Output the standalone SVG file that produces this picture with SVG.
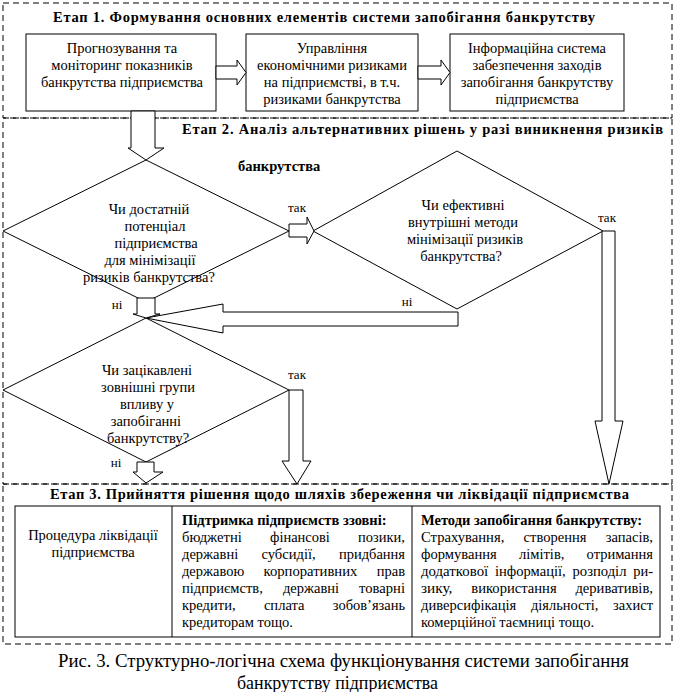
<svg xmlns="http://www.w3.org/2000/svg" width="676" height="692" viewBox="0 0 676 692" font-family="Liberation Serif, Times New Roman, serif" font-size="14.5">
<style>
text{fill:#000}
.b{font-weight:bold}
.c{text-anchor:middle}
.e{text-anchor:end}
.s{font-size:13px}
.cap{font-size:19px}
.frame{fill:none;stroke:#000;stroke-width:1;stroke-dasharray:6,4}
.box{fill:#fff;stroke:#000;stroke-width:1}
.dia{fill:none;stroke:#000;stroke-width:1}
.arr{fill:#fff;stroke:#000;stroke-width:1;stroke-linejoin:miter}
</style>
<rect width="676" height="692" fill="#fff"/>
<g id="stage1">
<rect class="frame" x="3" y="3" width="669" height="115"/>
<text class="b" x="53" y="22" textLength="542" lengthAdjust="spacing">Етап 1. Формування основних елементів системи запобігання банкрутству</text>
</g>
<g id="stage2">
<rect class="frame" x="3" y="118" width="669" height="366"/>
<text class="b" x="182" y="134" textLength="481" lengthAdjust="spacing">Етап 2. Аналіз альтернативних рішень  у разі виникнення ризиків</text>
<text class="b" x="238" y="171">банкрутства</text>
</g>
<g id="stage3">
<rect class="frame" x="3" y="484" width="669" height="160"/>
<text class="b" x="50" y="499" textLength="579" lengthAdjust="spacing">Етап 3. Прийняття рішення щодо шляхів збереження чи ліквідації підприємства</text>
</g>
<g id="box1">
<rect class="box" x="26" y="34" width="190" height="77"/>
<text class="c" x="122" y="53">Прогнозування та</text>
<text class="c" x="122" y="70">моніторинг показників</text>
<text class="c" x="122" y="87">банкрутства підприємства</text>
</g>
<g id="box2">
<rect class="box" x="246" y="34" width="172" height="77"/>
<text class="c" x="332" y="53">Управління</text>
<text class="c" x="332" y="70">економічними ризиками</text>
<text class="c" x="332" y="87">на підприємстві, в т.ч.</text>
<text class="c" x="332" y="104">ризиками банкрутства</text>
</g>
<g id="box3">
<rect class="box" x="450" y="34" width="174" height="77"/>
<text class="c" x="537" y="53">Інформаційна система</text>
<text class="c" x="537" y="70">забезпечення заходів</text>
<text class="c" x="537" y="87">запобігання банкрутству</text>
<text class="c" x="537" y="104">підприємства</text>
</g>
<g id="decision1">
<polygon class="dia" points="146,160 289,231 146,302 3,231"/>
<text class="c" x="149" y="214">Чи достатній</text>
<text class="c" x="155" y="231">потенціал</text>
<text class="c" x="156" y="248">підприємства</text>
<text class="c" x="150" y="265">для мінімізації</text>
<text class="c" x="149" y="282">ризиків банкрутства?</text>
</g>
<g id="decision2">
<polygon class="dia" points="457,151 603,231 457,309 313,231"/>
<text class="c" x="463" y="210">Чи ефективні</text>
<text class="c" x="463" y="227">внутрішні методи</text>
<text class="c" x="465" y="244">мінімізації ризиків</text>
<text class="c" x="461" y="261">банкрутства?</text>
</g>
<g id="decision3">
<polygon class="dia" points="146,318 289,390 146,462 3,390"/>
<text class="c" x="147" y="375">Чи зацікавлені</text>
<text class="c" x="148" y="392">зовнішні групи</text>
<text class="c" x="147" y="409">впливу у</text>
<text class="c" x="146" y="426">запобіганні</text>
<text class="c" x="148" y="443">банкрутству?</text>
</g>
<g id="table">
<rect class="box" x="15" y="506" width="645" height="131"/>
<line x1="172" y1="506" x2="172" y2="637" stroke="#000"/>
<line x1="412" y1="506" x2="412" y2="637" stroke="#000"/>
<text class="c" x="93" y="540">Процедура ліквідації</text>
<text class="c" x="93" y="557">підприємства</text>
<text class="b" x="182" y="525">Підтримка підприємств ззовні:</text>
<text x="182" y="542" textLength="59.8" lengthAdjust="spacingAndGlyphs">бюджетні</text>
<text x="270" y="542" textLength="59.9" lengthAdjust="spacingAndGlyphs">фінансові</text>
<text x="358.1" y="542" textLength="46.9" lengthAdjust="spacingAndGlyphs">позики,</text>
<text x="182" y="559" textLength="56.2" lengthAdjust="spacingAndGlyphs">державні</text>
<text x="261.5" y="559" textLength="54.2" lengthAdjust="spacingAndGlyphs">субсидії,</text>
<text x="338.9" y="559" textLength="66.1" lengthAdjust="spacingAndGlyphs">придбання</text>
<text x="182" y="576" textLength="62.2" lengthAdjust="spacingAndGlyphs">державою</text>
<text x="263.5" y="576" textLength="93.9" lengthAdjust="spacingAndGlyphs">корпоративних</text>
<text x="376.7" y="576" textLength="28.3" lengthAdjust="spacingAndGlyphs">прав</text>
<text x="182" y="593" textLength="80.8" lengthAdjust="spacingAndGlyphs">підприємств,</text>
<text x="282.9" y="593" textLength="56.2" lengthAdjust="spacingAndGlyphs">державні</text>
<text x="359.1" y="593" textLength="45.9" lengthAdjust="spacingAndGlyphs">товарні</text>
<text x="182" y="610" textLength="53.6" lengthAdjust="spacingAndGlyphs">кредити,</text>
<text x="263.9" y="610" textLength="40.7" lengthAdjust="spacingAndGlyphs">сплата</text>
<text x="332.8" y="610" textLength="72.2" lengthAdjust="spacingAndGlyphs">зобов’язань</text>
<text x="182" y="627">кредиторам тощо.</text>
<text class="b" x="421" y="525">Методи запобігання банкрутству:</text>
<text x="421" y="542" textLength="83.3" lengthAdjust="spacingAndGlyphs">Страхування,</text>
<text x="523.6" y="542" textLength="62.8" lengthAdjust="spacingAndGlyphs">створення</text>
<text x="605.7" y="542" textLength="47.3" lengthAdjust="spacingAndGlyphs">запасів,</text>
<text x="421" y="559" textLength="75.8" lengthAdjust="spacingAndGlyphs">формування</text>
<text x="519" y="559" textLength="45.4" lengthAdjust="spacingAndGlyphs">лімітів,</text>
<text x="586.6" y="559" textLength="66.4" lengthAdjust="spacingAndGlyphs">отримання</text>
<text x="421" y="576" textLength="67.2" lengthAdjust="spacingAndGlyphs">додаткової</text>
<text x="495" y="576" textLength="70.7" lengthAdjust="spacingAndGlyphs">інформації,</text>
<text x="572.5" y="576" textLength="54" lengthAdjust="spacingAndGlyphs">розподіл</text>
<text x="633.2" y="576" textLength="19.8" lengthAdjust="spacingAndGlyphs">ри-</text>
<text x="421" y="593" textLength="31.4" lengthAdjust="spacingAndGlyphs">зику,</text>
<text x="471.3" y="593" textLength="85.3" lengthAdjust="spacingAndGlyphs">використання</text>
<text x="575.4" y="593" textLength="77.6" lengthAdjust="spacingAndGlyphs">деривативів,</text>
<text x="421" y="610" textLength="95.3" lengthAdjust="spacingAndGlyphs">диверсифікація</text>
<text x="531" y="610" textLength="67.3" lengthAdjust="spacingAndGlyphs">діяльності,</text>
<text x="613.1" y="610" textLength="39.9" lengthAdjust="spacingAndGlyphs">захист</text>
<text x="421" y="627">комерційної таємниці тощо.</text>
</g>
<g id="caption">
<text class="cap" x="58" y="667" textLength="571" lengthAdjust="spacingAndGlyphs">Рис. 3. Структурно-логічна схема функціонування системи запобігання</text>
<text class="cap" x="237" y="689" textLength="201" lengthAdjust="spacingAndGlyphs">банкрутству підприємства</text>
</g>
<g id="connectors">
<polygon class="arr" points="216,66 237,66 237,60 246,72.5 237,85 237,79 216,79"/>
<polygon class="arr" points="418,66 441,66 441,60 450,72.5 441,85 441,79 418,79"/>
<polygon class="arr" points="131,111 155,111 155,148 164,148 146,160 128,148 131,148"/>
<polygon class="arr" points="289,224 307,224 307,217 314,231 307,244 307,237 289,237"/>
<polygon class="arr" points="602,231 615,231 615,421 623,421 609,484 595,421 602,421"/>
<polygon class="arr" points="458,312 458,326 223,326 223,333 146,318 223,304 223,312"/>
<polygon class="arr" points="137,298 155,298 155,314 160,314 146,318 133,314 137,314"/>
<polygon class="arr" points="289,390 303,390 303,461 311,461 297,484 282,461 289,461"/>
<polygon class="arr" points="137,462 154,462 154,472 163,472 146,483 133,472 137,472"/>
<text class="s c" x="297" y="212">так</text>
<text class="s c" x="607" y="222">так</text>
<text class="s c" x="407" y="306">ні</text>
<text class="s c" x="117" y="309">ні</text>
<text class="s c" x="297" y="379">так</text>
<text class="s c" x="116" y="467">ні</text>
</g>
</svg>
